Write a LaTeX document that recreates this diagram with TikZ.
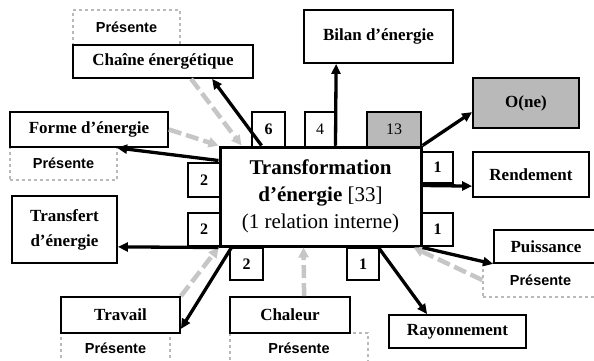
\documentclass[tikz,border=0pt]{standalone}
\usepackage{fontspec}
\setmainfont{Liberation Serif}
\setsansfont{Liberation Sans}
\usetikzlibrary{arrows.meta,calc}
\begin{document}
\begin{tikzpicture}[x=1pt,y=-1pt,
  box/.style={draw,line width=1.8pt,fill=white,inner sep=0pt,align=center,
    font=\fontsize{17}{25}\selectfont\bfseries},
  numbox/.style={draw,line width=1.6pt,fill=white,inner sep=0pt,
    font=\fontsize{16}{18}\selectfont},
  pres/.style={draw=gray!55,dashed,line width=1.5pt,inner sep=0pt,
    font=\fontsize{14.5}{16}\selectfont\sffamily\bfseries},
  outarr/.style={line width=3.3pt,-{Triangle[length=10pt,width=9pt]}},
  inarr/.style={line width=4.5pt,draw=gray!45,dash pattern=on 13pt off 5pt,
    -{Triangle[length=10pt,width=10pt]}}]
\useasboundingbox (0,0) rectangle (594,361);
% boites "Presente"
\node[pres,minimum width=107,minimum height=35] (prestop) at (126.5,27.5) {Présente};
\node[pres,minimum width=107,minimum height=33] (presforme) at (63.5,163.5) {Présente};
\node[pres,minimum width=109,minimum height=30] (prestrav) at (115.5,348) {Présente};
\node[pres,minimum width=138,minimum height=30] (preschal) at (299,348) {Présente};
\node[pres,minimum width=115,minimum height=34] (prespuiss) at (540.5,280) {Présente};
% boites
\node[box,minimum width=180,minimum height=33] (chaine) at (163,61.5) {Chaîne énergétique};
\node[box,minimum width=158,minimum height=35] (forme) at (89,129.5) {Forme d’énergie};
\node[box,minimum width=105,minimum height=67] (transfert) at (64.5,229.5) {Transfert\\d’énergie};
\node[box,minimum width=119,minimum height=36] (travail) at (120.5,315) {Travail};
\node[box,minimum width=120,minimum height=36] (chaleur) at (290,315) {Chaleur};
\node[box,minimum width=137,minimum height=33] (rayon) at (457.5,331.5) {Rayonnement};
\node[box,minimum width=104,minimum height=33] (puiss) at (546,246.5) {Puissance};
\node[box,minimum width=116,minimum height=45] (rendement) at (531,174.5) {Rendement};
\node[box,fill=gray!55,minimum width=106,minimum height=50] (one) at (526,103) {O(ne)};
\node[box,minimum width=149,minimum height=53] (bilan) at (378.5,36.5) {Bilan d’énergie};
% nombres
\node[numbox,font=\fontsize{16}{18}\selectfont\bfseries,minimum width=33,minimum height=35] (n6) at (268.5,129.5) {6};
\node[numbox,minimum width=30,minimum height=35] (n4) at (320,129.5) {4};
\node[numbox,fill=gray!55,minimum width=54,minimum height=35] (n13) at (394,129.5) {13};
\node[numbox,font=\fontsize{16}{18}\selectfont\bfseries,minimum width=32,minimum height=34] (nl1) at (204,180) {2};
\node[numbox,font=\fontsize{16}{18}\selectfont\bfseries,minimum width=32,minimum height=33] (nl2) at (204,229.5) {2};
\node[numbox,font=\fontsize{16}{18}\selectfont\bfseries,minimum width=31,minimum height=31] (nr1) at (437.5,167.5) {1};
\node[numbox,font=\fontsize{16}{18}\selectfont\bfseries,minimum width=31,minimum height=33] (nr2) at (437.5,229.5) {1};
\node[numbox,font=\fontsize{16}{18}\selectfont\bfseries,minimum width=33,minimum height=32] (nb1) at (246.5,264) {2};
\node[numbox,font=\fontsize{16}{18}\selectfont\bfseries,minimum width=32,minimum height=32] (nb2) at (363,264) {1};
% boite centrale
\node[draw,line width=3pt,fill=white,inner sep=0pt,align=center,
  minimum width=201,minimum height=99,font=\fontsize{21}{27}\selectfont] (main) at (320.5,196.5)
  {\textbf{Transformation}\\\textbf{d’énergie} [33]\\(1 relation interne)};
% fleches entrantes
\draw[inarr] ($(chaine.south west)+(119,0)$) -- ($(main.north west)+(23,0)$);
\draw[inarr] (forme.east) -- (main.north west);
\draw[inarr] (travail.north east) -- (main.south west);
\draw[inarr] ($(chaleur.north west)+(75,0)$) -- ($(main.south west)+(85,0)$);
\draw[inarr] (prespuiss.west) -- ($(main.south east)+(-9,0)$);
% fleches sortantes
\draw[outarr] ($(main.north west)+(43,0)$) -- ($(chaine.south west)+(140,0)$);
\draw[outarr] ($(main.north west)+(0,15)$) -- ($(forme.south west)+(108,0)$);
\draw[outarr] (main.south west) -- ($(transfert.south east)+(0,-17)$);
\draw[outarr] ($(main.south west)+(13,0)$) -- ($(travail.south east)+(0,-5)$);
\draw[outarr] ($(main.south west)+(160,0)$) -- ($(rayon.north west)+(39,0)$);
\draw[outarr] (main.south east) -- (puiss.south west);
\draw[outarr] ($(main.north east)+(0,40)$) -- ($(rendement.north west)+(0,35)$);
\draw[outarr] (main.north east) -- ($(one.north west)+(0,35)$);
\draw[outarr] ($(main.north west)+(117,0)$) -- ($(bilan.south west)+(33,0)$);
\end{tikzpicture}
\end{document}
